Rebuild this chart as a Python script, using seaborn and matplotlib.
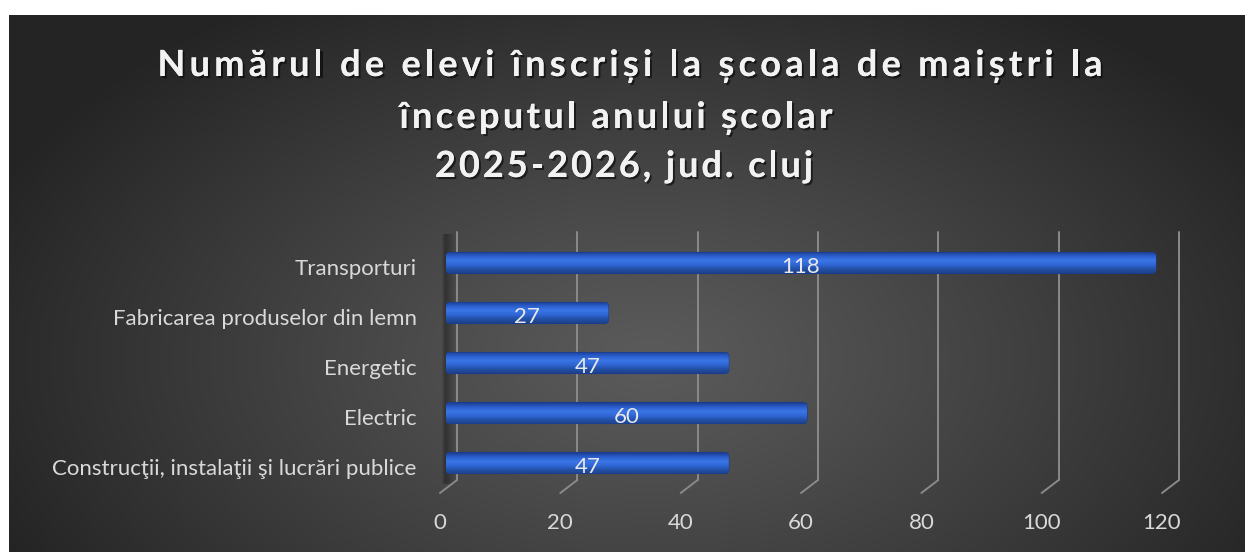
import numpy as np
import matplotlib
matplotlib.use("Agg")
import matplotlib.pyplot as plt
import seaborn as sns
import pandas as pd
from matplotlib import transforms, patheffects
from matplotlib.patches import FancyBboxPatch
from matplotlib.colors import LinearSegmentedColormap
from matplotlib.font_manager import FontProperties, findfont
from matplotlib.ft2font import FT2Font

categories = ["Transporturi", "Fabricarea produselor din lemn", "Energetic",
              "Electric", "Construcţii, instalaţii şi lucrări publice"]
values = [118, 27, 47, 60, 47]
xticks = [0, 20, 40, 60, 80, 100, 120]
title_lines = ["Numărul de elevi înscriși la școala de maiștri la",
               "începutul anului școlar",
               "2025-2026, jud. cluj"]

W, H, DPI = 1245, 552, 100
sns.set_theme(style="white")
plt.rcParams['font.family'] = ['Lato', 'DejaVu Sans']

fig = plt.figure(figsize=(W / DPI, H / DPI), dpi=DPI, facecolor='white')

# ---- background radial gradient
bg = fig.add_axes([9 / W, 0, 1 - 9 / W, 1 - 15 / H])
ny, nx = 276, 618
yy, xx = np.mgrid[0:ny, 0:nx]
px = 9 + xx / (nx - 1) * (W - 9)
py = 15 + yy / (ny - 1) * (H - 15)
d = np.sqrt(((px - 650) / 720) ** 2 + ((py - 360) / 430) ** 2)
v = (91 - 55 * np.clip(d, 0, 1) ** 1.1) / 255.0
bg.imshow(np.dstack([v, v, v]), aspect='auto', extent=[0, 1, 0, 1], interpolation='bilinear')
bg.set_axis_off()

# side-wall shadow strip (3D depth of the category axis)
sh = fig.add_axes([442 / W, 1 - 484 / H, 14 / W, 250 / H])
shade = np.zeros((1, 32, 4))
shade[..., 3] = np.concatenate([np.linspace(0.05, 0.32, 8), np.linspace(0.32, 0.0, 24)])
sh.imshow(shade, aspect='auto', extent=[0, 1, 0, 1], interpolation='bilinear')
sh.set_axis_off()

# ---- main axes (bar plane)
L, R, T, B = 446, 1168, 241, 489
ax = fig.add_axes([L / W, 1 - B / H, (R - L) / W, (B - T) / H])
ax.patch.set_alpha(0)
df = pd.DataFrame({"cat": categories, "val": values})
sns.barplot(data=df, x="val", y="cat", orient="h", color="#2f62d0", width=0.42,
            ax=ax, zorder=3)

ax.set_xlim(0, 120)
ax.set_ylim(4.52, -0.44)
for s in ax.spines.values():
    s.set_visible(False)
ax.set_xlabel("")
ax.set_ylabel("")

# gridlines (back wall + floor slant)
xt = ax.get_xaxis_transform()
back = xt + transforms.ScaledTranslation(11 / DPI, 9 / DPI, fig.dpi_scale_trans)
front = xt + transforms.ScaledTranslation(-6 / DPI, -4 / DPI, fig.dpi_scale_trans)
gcol = "#8a8a8a"
for t in xticks:
    ax.plot([t, t], [0, 1], transform=back, color=gcol, lw=1.4, zorder=1, clip_on=False)
    x0, y0 = back.transform((t, 0))
    x1, y1 = front.transform((t, 0))
    ax.plot([x0, x1], [y0, y1], transform=None, color=gcol, lw=1.4, zorder=1, clip_on=False)

# bars: rounded gradient
cmap = LinearSegmentedColormap.from_list("b", ["#1d4199", "#2d60cf", "#3b76e6", "#3066d6", "#2452a8", "#1d418c"])
for p in list(ax.patches):
    x, y, w, h = p.get_x(), p.get_y(), p.get_width(), p.get_height()
    p.remove()
    fb = FancyBboxPatch((x, y), w, h, boxstyle="round,pad=0,rounding_size=0.7",
                        mutation_aspect=0.11, facecolor="#2f62d0",
                        edgecolor="#1b3c8c", lw=0.8, zorder=3)
    ax.add_patch(fb)
    grad = np.linspace(0, 1, 64).reshape(-1, 1)
    im = ax.imshow(grad, cmap=cmap, extent=[x, x + w, y + h, y], aspect='auto',
                   zorder=3.5, interpolation='bilinear')
    im.set_clip_path(fb)

ax.set_xlim(0, 120)
ax.set_ylim(4.52, -0.44)

# value labels
for i, val in enumerate(values):
    ax.text(val / 2, i + 0.08, str(val), ha='center', va='center', color='#e8e8e8',
            fontsize=16, zorder=5)

# ticks
ax.set_xticks(xticks)
ax.set_xticklabels([str(t) for t in xticks])
ax.tick_params(axis='x', length=0, pad=17, labelsize=16, labelcolor='#d9d9d9')
ax.tick_params(axis='y', length=0, pad=21, labelsize=16, labelcolor='#d9d9d9')
off_x = transforms.ScaledTranslation(-6 / DPI, 0, fig.dpi_scale_trans)
for lab in ax.get_xticklabels():
    lab.set_transform(lab.get_transform() + off_x)
off_y = transforms.ScaledTranslation(0, -4 / DPI, fig.dpi_scale_trans)
for lab in ax.get_yticklabels():
    lab.set_transform(lab.get_transform() + off_y)

# title with letter spacing (tracking fitted per line to the reference widths)
tsize = 26.0
tprop = FontProperties(family='Lato', weight='bold', size=tsize)
font = FT2Font(findfont(tprop))
font.set_size(tsize, 72)


def advances(s):
    out = []
    for c in s:
        g = font.load_char(ord(c))
        out.append(g.linearHoriAdvance / 65536.0 * DPI / 72.0)
    return out


targets = [945.0, 433.0, 378.0]
centers = [630.0, 616.0, 624.0]
baselines = [76, 128, 177]
shadow = [patheffects.withSimplePatchShadow(offset=(1.5, -1.5), shadow_rgbFace='black', alpha=0.55),
          patheffects.Normal()]
for line, yb, cx, tw in zip(title_lines, baselines, centers, targets):
    adv = advances(line)
    spacing = (tw - sum(adv)) / (len(line) - 1)
    x = cx - tw / 2
    for c, a in zip(line, adv):
        if c != " ":
            fig.text(x / W, 1 - yb / H, c, ha='left', va='baseline', color='#f2f2f2',
                     fontproperties=tprop, path_effects=shadow)
        x += a + spacing

fig.savefig("out.png", dpi=DPI, facecolor='white')
